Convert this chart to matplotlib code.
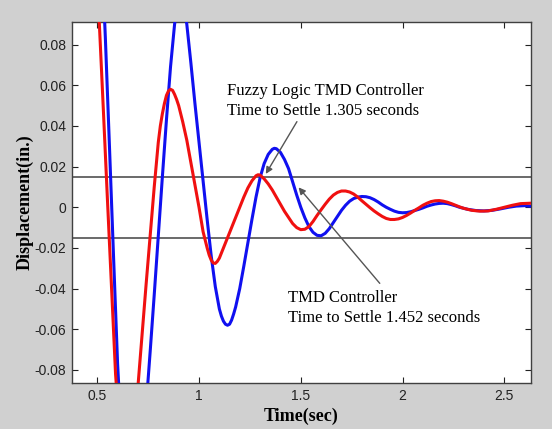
import matplotlib
matplotlib.use("Agg")
import matplotlib.pyplot as plt

# Fuzzy Logic TMD controller (red)
t_fuzzy = [0.49, 0.51, 0.53, 0.55, 0.57, 0.59, 0.61, 0.63, 0.65, 0.67, 0.69,
           0.70, 0.72, 0.74, 0.76, 0.78, 0.80, 0.81, 0.82, 0.83, 0.84, 0.85,
           0.86, 0.87, 0.88, 0.89, 0.90, 0.92, 0.94, 0.96, 0.98, 1.00, 1.02,
           1.04, 1.05, 1.06, 1.07, 1.08, 1.09, 1.10, 1.12, 1.14, 1.16, 1.18,
           1.20, 1.22, 1.24, 1.26, 1.28, 1.29, 1.30, 1.32, 1.34, 1.36, 1.38,
           1.40, 1.42, 1.44, 1.46, 1.48, 1.50, 1.52, 1.54, 1.56, 1.58, 1.60,
           1.62, 1.64, 1.66, 1.68, 1.70, 1.72, 1.74, 1.76, 1.78, 1.80, 1.82,
           1.84, 1.86, 1.88, 1.90, 1.92, 1.94, 1.96, 1.98, 2.00, 2.02, 2.04,
           2.06, 2.08, 2.10, 2.12, 2.14, 2.16, 2.18, 2.20, 2.22, 2.24, 2.26,
           2.28, 2.30, 2.34, 2.38, 2.42, 2.46, 2.50, 2.54, 2.58, 2.63]
d_fuzzy = [0.134, 0.091, 0.048, 0.004, -0.039, -0.082, -0.110, -0.125, -0.127,
           -0.115, -0.095, -0.088, -0.063, -0.038, -0.014, 0.010, 0.032, 0.040,
           0.046, 0.051, 0.055, 0.0572, 0.058, 0.0575, 0.0555, 0.053, 0.050,
           0.042, 0.033, 0.022, 0.011, 0.000, -0.012, -0.020, -0.0235, -0.026,
           -0.0274, -0.0276, -0.0266, -0.025, -0.020, -0.015, -0.010, -0.005,
           0.000, 0.005, 0.0095, 0.013, 0.0155, 0.016, 0.0158, 0.014, 0.0115,
           0.0085, 0.005, 0.0015, -0.002, -0.005, -0.008, -0.010, -0.011,
           -0.0108, -0.0095, -0.007, -0.004, -0.0012, 0.0015, 0.004, 0.006,
           0.0073, 0.008, 0.008, 0.0075, 0.0065, 0.005, 0.0032, 0.0015, -0.0002,
           -0.0018, -0.0032, -0.0045, -0.0055, -0.006, -0.006, -0.0057, -0.005,
           -0.004, -0.0028, -0.0015, -0.0003, 0.001, 0.002, 0.0028, 0.0032,
           0.0033, 0.003, 0.0025, 0.0018, 0.001, 0.0002, -0.0005, -0.0015,
           -0.0019, -0.0018, -0.001, 0.0, 0.001, 0.0018, 0.002]

# Conventional TMD controller (blue)
t_tmd = [0.52, 0.54, 0.56, 0.58, 0.60, 0.62, 0.64, 0.66, 0.68, 0.70, 0.72,
         0.74, 0.76, 0.78, 0.80, 0.82, 0.84, 0.86, 0.88, 0.90, 0.92, 0.94,
         0.96, 0.98, 1.00, 1.02, 1.04, 1.06, 1.08, 1.10, 1.11, 1.12, 1.13,
         1.14, 1.15, 1.16, 1.17, 1.18, 1.20, 1.22, 1.24, 1.26, 1.28, 1.30,
         1.32, 1.34, 1.36, 1.37, 1.38, 1.40, 1.42, 1.44, 1.46, 1.48, 1.50,
         1.52, 1.54, 1.56, 1.58, 1.60, 1.62, 1.64, 1.66, 1.68, 1.70, 1.72,
         1.74, 1.76, 1.78, 1.80, 1.82, 1.84, 1.86, 1.88, 1.90, 1.92, 1.94,
         1.96, 1.98, 2.00, 2.02, 2.04, 2.06, 2.08, 2.10, 2.12, 2.14, 2.16,
         2.18, 2.20, 2.22, 2.24, 2.26, 2.28, 2.32, 2.36, 2.40, 2.44, 2.48,
         2.52, 2.56, 2.60, 2.63]
d_tmd = [0.130, 0.083, 0.030, -0.024, -0.077, -0.115, -0.138, -0.148, -0.145,
         -0.130, -0.112, -0.098, -0.071, -0.043, -0.014, 0.015, 0.043, 0.069,
         0.090, 0.103, 0.104, 0.090, 0.071, 0.051, 0.032, 0.013, -0.006,
         -0.024, -0.039, -0.050, -0.0535, -0.056, -0.0575, -0.058, -0.0575,
         -0.0555, -0.0525, -0.049, -0.040, -0.029, -0.0175, -0.006, 0.005,
         0.0145, 0.0215, 0.026, 0.0285, 0.029, 0.0288, 0.027, 0.0235, 0.019,
         0.0125, 0.006, 0.0, -0.0052, -0.0095, -0.0123, -0.0138, -0.014,
         -0.0128, -0.0105, -0.0075, -0.0045, -0.0015, 0.001, 0.003, 0.0043,
         0.005, 0.0053, 0.0052, 0.0047, 0.0038, 0.0026, 0.0012, 0.0, -0.001,
         -0.0019, -0.0025, -0.0027, -0.0026, -0.0022, -0.0016, -0.001, -0.0003,
         0.0005, 0.0011, 0.0016, 0.0019, 0.002, 0.0018, 0.0013, 0.0007, 0.0,
         -0.001, -0.0016, -0.0018, -0.0015, -0.0008, 0.0, 0.0006, 0.0008,
         0.0005]

settle_band = 0.015
x_ticks = [0.5, 1, 1.5, 2, 2.5]
x_tick_labels = ["0.5", "1", "1.5", "2", "2.5"]
y_ticks = [-0.08, -0.06, -0.04, -0.02, 0, 0.02, 0.04, 0.06, 0.08]
y_tick_labels = ["-0.08", "-0.06", "-0.04", "-0.02", "0", "0.02", "0.04", "0.06", "0.08"]

fig = plt.figure(figsize=(5.52, 4.29), dpi=100, facecolor="#d0d0d0")
ax = fig.add_axes([72/552, 1 - 383/429, (531-72)/552, (383-22)/429])
ax.set_facecolor("white")

ax.axhline(settle_band, color="#505050", lw=1.2, zorder=1)
ax.axhline(-settle_band, color="#505050", lw=1.2, zorder=1)

ax.plot(t_tmd, d_tmd, color="#1010f0", lw=2.2, zorder=3,
        solid_joinstyle="round")
ax.plot(t_fuzzy, d_fuzzy, color="#f01010", lw=2.2, zorder=4,
        solid_joinstyle="round")

ax.set_xlim(0.376, 2.631)
ax.set_ylim(-0.0864, 0.0911)
ax.set_xticks(x_ticks)
ax.set_xticklabels(x_tick_labels)
ax.set_yticks(y_ticks)
ax.set_yticklabels(y_tick_labels)
ax.tick_params(direction="in", length=4, width=0.8, top=True, right=True,
               labelsize=10, colors="#222222", pad=4)
for lab in ax.get_xticklabels() + ax.get_yticklabels():
    lab.set_family("Liberation Sans")
for s in ax.spines.values():
    s.set_color("#404040")
    s.set_linewidth(1.0)

ax.set_xlabel("Time(sec)", family="Liberation Serif", fontsize=13,
              fontweight="bold", labelpad=4)
ax.set_ylabel("Displacement(in.)", family="Liberation Serif", fontsize=13,
              fontweight="bold", labelpad=1)

ax.text(1.138, 0.0574, "Fuzzy Logic TMD Controller", family="Liberation Serif",
        fontsize=12, va="center", ha="left", zorder=5)
ax.text(1.138, 0.0475, "Time to Settle 1.305 seconds", family="Liberation Serif",
        fontsize=12, va="center", ha="left", zorder=5)
ax.text(1.437, -0.0448, "TMD Controller", family="Liberation Serif",
        fontsize=12, va="center", ha="left", zorder=5)
ax.text(1.437, -0.0546, "Time to Settle 1.452 seconds", family="Liberation Serif",
        fontsize=12, va="center", ha="left", zorder=5)

arrow_style = dict(arrowstyle="-|>", color="#555555", lw=1.0,
                   mutation_scale=10, shrinkA=0, shrinkB=0)
ax.annotate("", xy=(1.328, 0.0164), xytext=(1.481, 0.0421),
            arrowprops=arrow_style, zorder=6)
ax.annotate("", xy=(1.489, 0.0098), xytext=(1.888, -0.0374),
            arrowprops=arrow_style, zorder=6)

fig.savefig("out.png", dpi=100, facecolor=fig.get_facecolor())
